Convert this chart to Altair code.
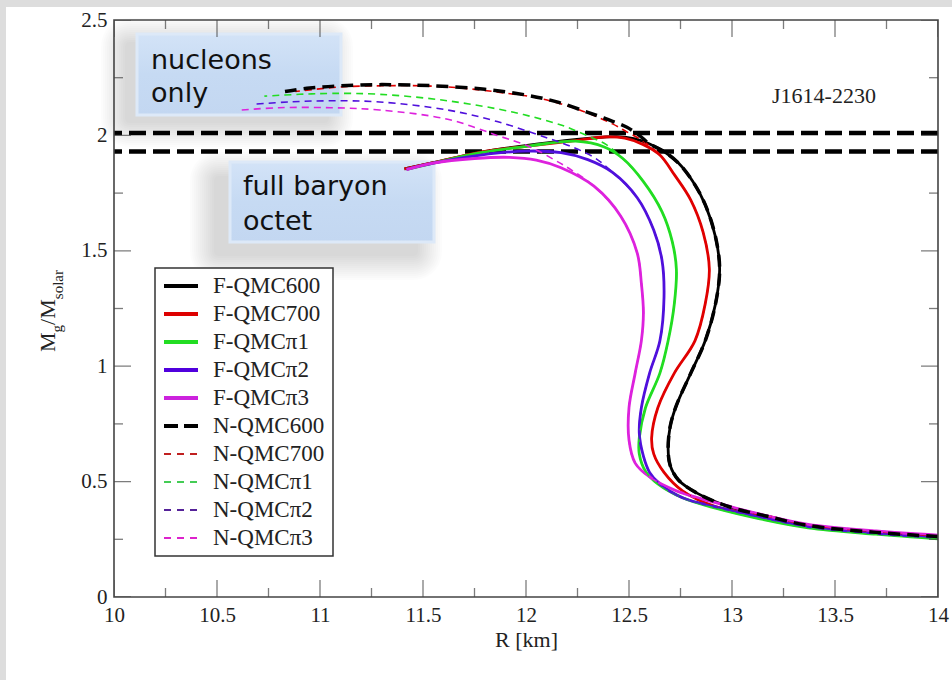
import altair as alt
import pandas as pd

# ---------------- data ----------------
F_NAMES = ["F-QMC600", "F-QMC700", "F-QMCπ1", "F-QMCπ2", "F-QMCπ3"]
N_NAMES = ["N-QMC600", "N-QMC700", "N-QMCπ1", "N-QMCπ2", "N-QMCπ3"]
F_COLORS = ["#000000", "#e00000", "#22dd22", "#5010dc", "#dd22dd"]
N_COLORS = ["#000000", "#c83030", "#44cc55", "#5a28b4", "#dd33cc"]

F600_R = [14.00, 13.70, 13.37, 13.17, 12.99, 12.83, 12.74, 12.70, 12.69, 12.70, 12.73, 12.80, 12.87, 12.92,
          12.94, 12.92, 12.87, 12.81, 12.74, 12.67, 12.60, 12.53, 12.44, 12.30, 12.05, 11.80, 11.55, 11.41]
F600_M = [0.262, 0.280, 0.310, 0.350, 0.390, 0.450, 0.507, 0.570, 0.640, 0.740, 0.830, 0.970, 1.110, 1.270,
          1.420, 1.560, 1.700, 1.800, 1.880, 1.930, 1.963, 1.985, 1.995, 1.987, 1.962, 1.930, 1.882, 1.855]

F700_R = [14.00, 13.70, 13.37, 13.17, 12.92, 12.76, 12.67, 12.62, 12.61, 12.64, 12.72, 12.82, 12.87, 12.89,
          12.86, 12.80, 12.72, 12.65, 12.57, 12.48, 12.38, 12.26, 12.02, 11.78, 11.55, 11.41]
F700_M = [0.262, 0.280, 0.310, 0.350, 0.392, 0.460, 0.540, 0.620, 0.690, 0.820, 0.970, 1.110, 1.270, 1.420,
          1.580, 1.720, 1.830, 1.915, 1.960, 1.988, 1.993, 1.980, 1.955, 1.928, 1.882, 1.855]

FPI1_R = [14.00, 13.70, 13.37, 13.13, 12.92, 12.76, 12.64, 12.58, 12.55, 12.55, 12.58, 12.65, 12.69, 12.72,
          12.73, 12.71, 12.66, 12.57, 12.47, 12.38, 12.24, 12.02, 11.78, 11.55, 11.42]
FPI1_M = [0.252, 0.272, 0.300, 0.340, 0.385, 0.430, 0.490, 0.545, 0.620, 0.690, 0.820, 0.970, 1.110, 1.270,
          1.420, 1.540, 1.670, 1.800, 1.900, 1.950, 1.975, 1.955, 1.925, 1.880, 1.853]

FPI2_R = [14.00, 13.70, 13.37, 13.15, 12.95, 12.76, 12.65, 12.60, 12.57, 12.55, 12.56, 12.60, 12.65, 12.67,
          12.66, 12.62, 12.54, 12.42, 12.30, 12.17, 12.00, 11.78, 11.55, 11.42]
FPI2_M = [0.258, 0.276, 0.305, 0.345, 0.385, 0.430, 0.490, 0.540, 0.610, 0.710, 0.820, 0.970, 1.110, 1.300,
          1.460, 1.590, 1.730, 1.840, 1.895, 1.925, 1.932, 1.915, 1.880, 1.853]

FPI3_R = [14.00, 13.70, 13.37, 13.17, 13.00, 12.73, 12.60, 12.53, 12.50, 12.50, 12.53, 12.56, 12.57, 12.56,
          12.54, 12.46, 12.33, 12.17, 12.05, 11.92, 11.75, 11.55, 11.42]
FPI3_M = [0.268, 0.286, 0.315, 0.352, 0.390, 0.460, 0.520, 0.580, 0.680, 0.820, 0.970, 1.110, 1.230, 1.360,
          1.490, 1.650, 1.780, 1.860, 1.893, 1.905, 1.900, 1.880, 1.852]

# nucleon-only branches: shared low-mass part (first JOIN points of the F curve) + own upper part
N600_JOIN = 21
N600_UP_R = [12.55, 12.49, 12.40, 12.30, 12.15, 12.00, 11.80, 11.55, 11.30, 11.10, 10.95, 10.83]
N600_UP_M = [2.000, 2.035, 2.068, 2.100, 2.145, 2.175, 2.200, 2.215, 2.220, 2.215, 2.205, 2.190]

N700_JOIN = 18
N700_UP_R = [12.56, 12.49, 12.42, 12.26, 12.07, 11.91, 11.69, 11.50, 11.30, 11.10, 10.88]
N700_UP_M = [1.980, 2.015, 2.050, 2.110, 2.160, 2.182, 2.205, 2.215, 2.215, 2.210, 2.190]

NPI1_JOIN = 19
NPI1_UP_R = [12.39, 12.32, 12.25, 12.17, 11.94, 11.62, 11.29, 11.06, 10.90, 10.73]
NPI1_UP_M = [1.960, 1.990, 2.017, 2.045, 2.100, 2.150, 2.178, 2.182, 2.178, 2.170]

NPI2_JOIN = 18
NPI2_UP_R = [12.33, 12.21, 12.10, 11.86, 11.62, 11.29, 11.05, 10.85, 10.68]
NPI2_UP_M = [1.905, 1.955, 1.990, 2.060, 2.110, 2.145, 2.150, 2.145, 2.135]

NPI3_JOIN = 17
NPI3_UP_R = [12.22, 12.14, 12.02, 11.86, 11.62, 11.29, 11.05, 10.80, 10.62]
NPI3_UP_M = [1.850, 1.893, 1.950, 2.000, 2.070, 2.110, 2.120, 2.120, 2.110]

OBS_MASS = [2.01, 1.93]          # J1614-2230 band
X_MAJOR = [10, 10.5, 11, 11.5, 12, 12.5, 13, 13.5, 14]
X_MINOR = [10.25, 10.75, 11.25, 11.75, 12.25, 12.75, 13.25, 13.75]
Y_MAJOR = [0, 0.5, 1, 1.5, 2, 2.5]
Y_MINOR = [0.25, 0.75, 1.25, 1.75, 2.25]

# ---------------- tables ----------------
F_R = [F600_R, F700_R, FPI1_R, FPI2_R, FPI3_R]
F_M = [F600_M, F700_M, FPI1_M, FPI2_M, FPI3_M]
N_JOIN = [N600_JOIN, N700_JOIN, NPI1_JOIN, NPI2_JOIN, NPI3_JOIN]
N_UP_R = [N600_UP_R, N700_UP_R, NPI1_UP_R, NPI2_UP_R, NPI3_UP_R]
N_UP_M = [N600_UP_M, N700_UP_M, NPI1_UP_M, NPI2_UP_M, NPI3_UP_M]

rows = []
for name, rr, mm in zip(F_NAMES, F_R, F_M):
    for i, (r, m) in enumerate(zip(rr, mm)):
        rows.append({"series": name, "R": r, "M": m, "idx": i})
df_F = pd.DataFrame(rows)

rows = []
for k, name in enumerate(N_NAMES):
    rr = F_R[k][:N_JOIN[k]] + N_UP_R[k]
    mm = F_M[k][:N_JOIN[k]] + N_UP_M[k]
    for i, (r, m) in enumerate(zip(rr, mm)):
        rows.append({"series": name, "R": r, "M": m, "idx": i})
df_N = pd.DataFrame(rows)

df_obs = pd.DataFrame({"M": OBS_MASS})
df_xt_major = pd.DataFrame([{"R": v, "M": e} for v in X_MAJOR for e in (0, 2.5)])
df_xt_minor = pd.DataFrame([{"R": v, "M": e} for v in X_MINOR for e in (0, 2.5)])
df_yt_major = pd.DataFrame([{"R": e, "M": v} for v in Y_MAJOR for e in (10, 14)])
df_yt_minor = pd.DataFrame([{"R": e, "M": v} for v in Y_MINOR for e in (10, 14)])

LEG_NAMES = F_NAMES + N_NAMES
LEG_COLORS = ["#000000", "#dd0000", "#22dd22", "#5000dd", "#cc22dd",
              "#000000", "#c02020", "#44cc55", "#552299", "#dd22cc"]
df_leg = pd.DataFrame({"name": LEG_NAMES, "col": LEG_COLORS,
                       "ly": [266 + 28 * i for i in range(10)], "k": list(range(10))})

ONE = pd.DataFrame({"k": [0]})

# ---------------- encodings ----------------
W, H = 824, 577
SERIF = "Liberation Serif"
xscale = alt.Scale(domain=[10, 14], nice=False, zero=False)
yscale = alt.Scale(domain=[0, 2.5], nice=False, zero=False)
xaxis = alt.Axis(values=X_MAJOR, format="~g", ticks=False, domain=False, grid=False, zindex=2,
                 labelFont=SERIF, labelFontSize=21, labelColor="#222", labelPadding=7,
                 labelFlush=False, title="R [km]", titleFont=SERIF, titleFontSize=22,
                 titleFontWeight="normal", titleColor="#222", titlePadding=4)
yaxis = alt.Axis(values=Y_MAJOR, format="~g", ticks=False, domain=False, grid=False, zindex=2,
                 labelFont=SERIF, labelFontSize=21, labelColor="#222", labelPadding=7,
                 labelFlush=False, title=None)


def X(f):
    return alt.X(f, scale=xscale, axis=xaxis)


def Y(f):
    return alt.Y(f, scale=yscale, axis=yaxis)


layers = []

# white panel on grey page
layers.append(alt.Chart(ONE).mark_rect(fill="white", strokeWidth=0).encode(
    x=alt.value(-108), x2=alt.value(838), y=alt.value(-13), y2=alt.value(660)))


def box_with_shadow(x1, y1, x2, y2, dx, dy):
    out = []
    for e in range(24, -1, -2):
        out.append(alt.Chart(ONE).mark_rect(fill="#000000", opacity=0.011, cornerRadius=e + 4).encode(
            x=alt.value(x1 + dx - e), x2=alt.value(x2 + dx + e),
            y=alt.value(y1 + dy - e), y2=alt.value(y2 + dy + e)))
    grad = {"gradient": "linear", "x1": 0, "y1": 0, "x2": 0, "y2": 1,
            "stops": [{"offset": 0, "color": "#d3e3f7"}, {"offset": 0.5, "color": "#c6daf3"},
                      {"offset": 1, "color": "#c3d7f1"}]}
    out.append(alt.Chart(ONE).mark_rect(fill=grad, stroke="#dde9f8", strokeWidth=3).encode(
        x=alt.value(x1), x2=alt.value(x2), y=alt.value(y1), y2=alt.value(y2)))
    return out


layers += box_with_shadow(23, 14, 227, 95, -12, 8)
layers += box_with_shadow(116, 142, 320, 222, -16, 14)

SANS = "DejaVu Sans"
for txt, xx, yy in [("nucleons", 37, 49), ("only", 37, 82), ("full baryon", 129, 175), ("octet", 129, 210)]:
    layers.append(alt.Chart(ONE).mark_text(text=txt, font=SANS, fontSize=27, color="#111",
                                           align="left", baseline="alphabetic").encode(
        x=alt.value(xx), y=alt.value(yy)))

# observational band lines
layers.append(alt.Chart(df_obs).mark_rule(color="black", strokeWidth=4.5, strokeDash=[17, 7]).encode(
    y=Y("M:Q")))

# full baryon octet curves
layers.append(alt.Chart(df_F).mark_line(strokeWidth=2.8, interpolate="catmull-rom", clip=True).encode(
    x=X("R:Q"), y=Y("M:Q"), order=alt.Order("idx:Q"),
    color=alt.Color("series:N", scale=alt.Scale(domain=F_NAMES, range=F_COLORS), legend=None)))

# nucleon-only curves
layers.append(alt.Chart(df_N).transform_filter(alt.datum.series != "N-QMC600").mark_line(
    strokeWidth=1.6, strokeDash=[7, 5], interpolate="catmull-rom", clip=True).encode(
    x=X("R:Q"), y=Y("M:Q"), order=alt.Order("idx:Q"),
    color=alt.Color("series:N", scale=alt.Scale(domain=N_NAMES, range=N_COLORS), legend=None)))
layers.append(alt.Chart(df_N).transform_filter(alt.datum.series == "N-QMC600").mark_line(
    strokeWidth=3.5, strokeDash=[12, 7], color="black", interpolate="catmull-rom", clip=True).encode(
    x=X("R:Q"), y=Y("M:Q"), order=alt.Order("idx:Q")))

# inward ticks on all four sides
TICK = "#444"
layers.append(alt.Chart(df_xt_major).mark_tick(orient="vertical", size=34, thickness=1.3, color=TICK, clip=True)
              .encode(x=X("R:Q"), y=Y("M:Q")))
layers.append(alt.Chart(df_xt_minor).mark_tick(orient="vertical", size=18, thickness=1.3, color=TICK, clip=True)
              .encode(x=X("R:Q"), y=Y("M:Q")))
layers.append(alt.Chart(df_yt_major).mark_tick(orient="horizontal", size=34, thickness=1.3, color=TICK, clip=True)
              .encode(x=X("R:Q"), y=Y("M:Q")))
layers.append(alt.Chart(df_yt_minor).mark_tick(orient="horizontal", size=18, thickness=1.3, color=TICK, clip=True)
              .encode(x=X("R:Q"), y=Y("M:Q")))

# plot frame
layers.append(alt.Chart(ONE).mark_rect(fillOpacity=0, stroke="#444", strokeWidth=1.6).encode(
    x=alt.value(0), x2=alt.value(W), y=alt.value(0), y2=alt.value(H)))

# legend
layers.append(alt.Chart(ONE).mark_rect(fill="white", stroke="#333", strokeWidth=1.5).encode(
    x=alt.value(41), x2=alt.value(219), y=alt.value(248), y2=alt.value(536)))
leg_y = alt.Y("ly:Q", scale=None, axis=None)
leg_c = alt.Color("col:N", scale=None, legend=None)
layers.append(alt.Chart(df_leg).transform_filter(alt.datum.k < 5).mark_rule(strokeWidth=4).encode(
    x=alt.value(50), x2=alt.value(84), y=leg_y, color=leg_c))
layers.append(alt.Chart(df_leg).transform_filter(alt.datum.k == 5).mark_rule(strokeWidth=4, strokeDash=[14, 6]).encode(
    x=alt.value(50), x2=alt.value(84), y=leg_y, color=leg_c))
layers.append(alt.Chart(df_leg).transform_filter(alt.datum.k > 5).mark_rule(strokeWidth=2, strokeDash=[7, 6]).encode(
    x=alt.value(50), x2=alt.value(84), y=leg_y, color=leg_c))
layers.append(alt.Chart(df_leg).mark_text(font=SERIF, fontSize=23, color="#222", align="left",
                                          baseline="middle").encode(
    x=alt.value(99), y=leg_y, text="name:N"))

# pulsar label
layers.append(alt.Chart(ONE).mark_text(text="J1614-2230", font=SERIF, fontSize=22, color="#222",
                                       align="center", baseline="alphabetic").encode(
    x=alt.value(710), y=alt.value(83)))

# y-axis title  M_g / M_solar (rotated, with subscripts)
for txt, xx, yy, fs in [("M", -59, 332, 22), ("g", -52, 312.4, 15), ("/M", -59, 304.9, 22),
                        ("solar", -51, 279.2, 15)]:
    layers.append(alt.Chart(ONE).mark_text(text=txt, font=SERIF, fontSize=fs, color="#222", angle=270,
                                           align="left", baseline="alphabetic").encode(
        x=alt.value(xx), y=alt.value(yy)))

chart = alt.layer(*layers).properties(
    width=W, height=H, background="#dddddd",
    autosize=alt.AutoSizeParams(type="none"),
    padding={"left": 114, "top": 20, "right": 14, "bottom": 83},
).configure_view(stroke=None)

chart.save("out.html", embed_options={"renderer": "svg", "actions": False})
